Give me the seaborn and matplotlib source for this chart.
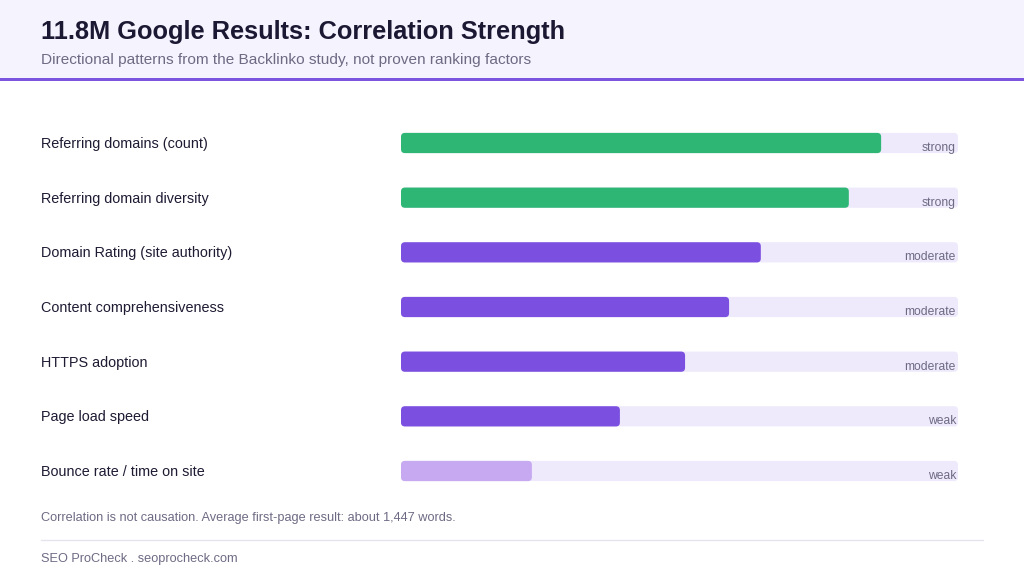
#!/usr/bin/env python
# -*- coding: utf-8 -*-

import matplotlib
matplotlib.use("Agg")
import matplotlib.pyplot as plt
import matplotlib.transforms as mtransforms
from matplotlib.patches import FancyBboxPatch, Rectangle
import pandas as pd
import seaborn as sns

factors = ["Referring domains (count)",
           "Referring domain diversity",
           "Domain Rating (site authority)",
           "Content comprehensiveness",
           "HTTPS adoption",
           "Page load speed",
           "Bounce rate / time on site"]
scores = [0.862, 0.804, 0.646, 0.589, 0.51, 0.393, 0.235]
strength = ["strong", "strong", "moderate", "moderate", "moderate", "weak", "weak"]
bar_colors = ["#2DB674", "#2DB674", "#7B4FE0", "#7B4FE0", "#7B4FE0", "#7B4FE0", "#C6A9F0"]

title = "11.8M Google Results: Correlation Strength"
subtitle = "Directional patterns from the Backlinko study, not proven ranking factors"
note = "Correlation is not causation. Average first-page result: about 1,447 words."
footer = "SEO ProCheck . seoprocheck.com"

sns.set_theme(style="white")
plt.rcParams['font.family'] = ['Liberation Sans', 'DejaVu Sans']

W, H = 1024, 576
fig = plt.figure(figsize=(W / 100, H / 100), dpi=100)
fig.patch.set_facecolor("white")

# header band
fig.patches.append(Rectangle((0, 1 - 78 / H), 1, 78 / H, transform=fig.transFigure,
                             facecolor="#F5F3FD", edgecolor="none", zorder=0))
fig.patches.append(Rectangle((0, 1 - 81 / H), 1, 3 / H, transform=fig.transFigure,
                             facecolor="#7B55DF", edgecolor="none", zorder=1))
fig.text(41 / W, 1 - 32 / H, title, fontsize=18.3, fontweight="bold",
         color="#1B1833", va="center", ha="left")
fig.text(41 / W, 1 - 60 / H, subtitle, fontsize=11.05, color="#6E6A84",
         va="center", ha="left")

# bar area: x 401..958 px, rows centred 143..471 px
step = (471 - 143) / 6
top = 143 - step / 2
bottom = 471 + step / 2
ax = fig.add_axes([401 / W, 1 - bottom / H, (958 - 401) / W, (bottom - top) / H])

df = pd.DataFrame({"factor": factors, "score": scores, "track": [1.0] * len(factors)})
sns.barplot(data=df, x="track", y="factor", color="#EEEAFB", width=0.37,
            saturation=1, ax=ax)
sns.barplot(data=df, x="score", y="factor", hue="factor", palette=bar_colors,
            width=0.37, saturation=1, legend=False, ax=ax)
ax.set_xlim(0, 1)
ax.set_ylim(len(factors) - 0.5, -0.5)

# swap rectangles for rounded bars
px_x = 1 / (958 - 401)
px_y = 1 / step
for p in list(ax.patches):
    x0, y0 = p.get_x(), p.get_y()
    w, h = p.get_width(), p.get_height()
    fc = p.get_facecolor()
    p.remove()
    rb = FancyBboxPatch((x0, y0), w, h,
                        boxstyle="round,pad=0,rounding_size=%f" % (4 * px_x),
                        mutation_aspect=px_y / px_x,
                        facecolor=fc, edgecolor="none", zorder=2)
    ax.add_patch(rb)

ax.set_axis_off()

lab_tr = mtransforms.blended_transform_factory(fig.transFigure, ax.transData)
for i, (name, s) in enumerate(zip(factors, strength)):
    ax.text(41 / W, i + 0.02, name, transform=lab_tr, fontsize=10.4, color="#1E1B33",
            ha="left", va="center")
    ax.text(956 / W, i + 0.09, s, transform=lab_tr, fontsize=8.7, color="#6E6A84",
            ha="right", va="center", zorder=3)

fig.text(41 / W, 1 - 518 / H, note, fontsize=9.2, color="#6E6A84", va="center", ha="left")
fig.lines.append(plt.Line2D([41 / W, 983 / W], [1 - 540 / H, 1 - 540 / H],
                            transform=fig.transFigure, color="#E6E3EF", lw=1))
fig.text(41 / W, 1 - 559 / H, footer, fontsize=9.2, color="#6E6A84", va="center", ha="left")

fig.savefig("out.png", dpi=100, facecolor=fig.get_facecolor())
